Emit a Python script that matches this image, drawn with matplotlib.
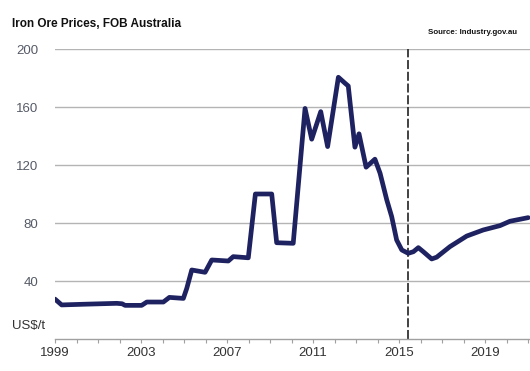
import matplotlib
matplotlib.use("Agg")
import matplotlib.pyplot as plt

years = [1999.0, 1999.31, 2000.4, 2001.87, 2002.12, 2002.26, 2003.03, 2003.27, 2004.04,
         2004.32, 2004.97, 2005.13, 2005.36, 2005.98, 2006.29, 2007.06, 2007.29, 2007.99,
         2008.32, 2009.08, 2009.31, 2010.08, 2010.63, 2010.94, 2011.36, 2011.68, 2012.18,
         2012.49, 2012.64, 2012.95, 2013.14, 2013.47, 2013.88, 2014.12, 2014.43, 2014.66,
         2014.89, 2015.13, 2015.43, 2015.67, 2015.9, 2016.13, 2016.52, 2016.75, 2017.37,
         2018.15, 2018.92, 2019.7, 2020.16, 2021.01]
prices = [27.5, 23.5, 24.0, 24.6, 24.3, 23.2, 23.2, 25.5, 25.5,
          28.7, 28.0, 35.0, 47.6, 46.0, 54.5, 53.8, 56.8, 56.0,
          100.0, 100.0, 66.4, 66.0, 159.0, 137.8, 156.8, 132.7, 180.5,
          176.4, 174.5, 132.3, 141.5, 118.5, 124.0, 114.3, 96.0, 84.4,
          68.3, 61.4, 59.1, 60.2, 63.0, 60.2, 55.2, 56.4, 63.7,
          71.0, 75.2, 78.2, 81.2, 83.7]
forecast_start = 2015.43
xtick_years = [1999, 2003, 2007, 2011, 2015, 2019]
ytick_values = [40, 80, 120, 160, 200]

plt.rcParams['font.family'] = ['Liberation Sans', 'DejaVu Sans']

fig = plt.figure(figsize=(5.30, 3.71), dpi=100)
ax = fig.add_axes([55/530, 1-339/371, 1-55/530, (339-49)/371])
ax.set_ylim(0, 200)
ax.set_xlim(1999, 1999 + 475/21.5)

for v in ytick_values:
    ax.axhline(v, color='#b4b4b4', lw=1.0, zorder=1)

ax.plot(years, prices, color='#1e2260', lw=3.4, solid_joinstyle='round',
        solid_capstyle='round', zorder=3)
ax.axvline(forecast_start, color='#333333', lw=1.3, ls=(0, (5, 1.5)), zorder=2)

for s in ['top', 'right', 'left']:
    ax.spines[s].set_visible(False)
ax.spines['bottom'].set_color('#a0a0a0')
ax.spines['bottom'].set_linewidth(1.0)

ax.set_xticks(xtick_years)
ax.set_xticklabels([str(y) for y in xtick_years], fontsize=9.5, color='#333333')
ax.set_xticks(range(1999, 2022), minor=True)
ax.tick_params(axis='x', which='both', length=3, width=0.8, color='#a0a0a0', pad=3)

ax.set_yticks(ytick_values)
ax.set_yticklabels([str(v) for v in ytick_values], fontsize=9.5, color='#555a66')
ax.tick_params(axis='y', length=0, pad=12)

fig.text(12/530, 1-326/371, 'US$/t', fontsize=9.5, color='#333333', va='center', ha='left')
fig.text(12/530, 1-24/371, 'Iron Ore Prices, FOB Australia', fontsize=8.5,
         fontweight='bold', color='#111111', va='center', ha='left')
fig.text(517/530, 1-32/371, 'Source: Industry.gov.au', fontsize=5.7,
         fontweight='bold', color='#111111', va='center', ha='right')

fig.savefig('out.png', dpi=100)
